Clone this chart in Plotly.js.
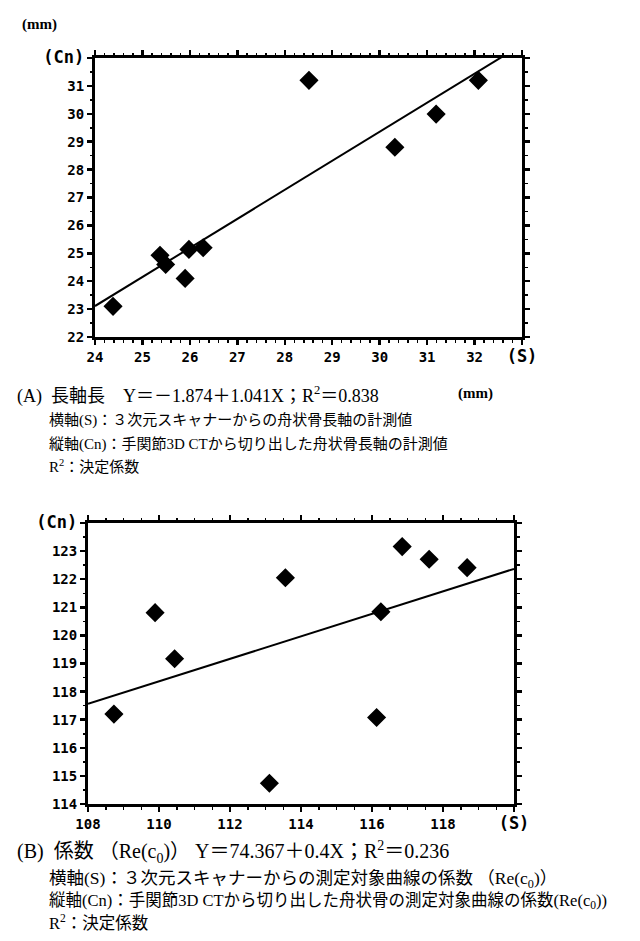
<!DOCTYPE html>
<html>
<head>
<meta charset="utf-8">
<script src="https://cdn.plot.ly/plotly-3.0.1.min.js"></script>
<style>html,body{margin:0;padding:0;background:#fff;}#chart{width:640px;height:941px;}</style>
</head>
<body>
<div id="chart"></div>
<script>
// ---- Data: (A) long-axis length (mm) ----
var xA = [24.38, 25.37, 25.49, 25.90, 25.98, 26.28, 28.51, 30.32, 31.19, 32.08];
var yA = [23.10, 24.93, 24.60, 24.10, 25.14, 25.20, 31.20, 28.80, 29.99, 31.20];
var fitA = {a: -1.874, b: 1.041};
var xTicksA = [24, 25, 26, 27, 28, 29, 30, 31, 32, 33];
var xLabelsA = ["24", "25", "26", "27", "28", "29", "30", "31", "32", "(S)"];
var yTicksA = [22, 23, 24, 25, 26, 27, 28, 29, 30, 31, 32];
var yLabelsA = ["22", "23", "24", "25", "26", "27", "28", "29", "30", "31", "(Cn)"];

// ---- Data: (B) coefficient Re(c0) ----
var xB = [108.73, 109.89, 110.44, 113.11, 113.56, 116.13, 116.25, 116.85, 117.61, 118.68];
var yB = [117.20, 120.81, 119.17, 114.74, 122.05, 117.08, 120.84, 123.16, 122.71, 122.41];
var fitB = {a: 74.367, b: 0.4};
var xTicksB = [108, 110, 112, 114, 116, 118, 120];
var xLabelsB = ["108", "110", "112", "114", "116", "118", "(S)"];
var yTicksB = [114, 115, 116, 117, 118, 119, 120, 121, 122, 123, 124];
var yLabelsB = ["114", "115", "116", "117", "118", "119", "120", "121", "122", "123", "(Cn)"];

var W = 640, H = 941;
var rangeXA = [24, 33], rangeYA = [22, 32];
var rangeXB = [108, 120], rangeYB = [114, 124];

function fitLine(f, r) { return {x: r, y: r.map(function (v) { return f.a + f.b * v; })}; }
var lA = fitLine(fitA, rangeXA), lB = fitLine(fitB, rangeXB);

var mark = {symbol: 'diamond', size: 12, color: '#000', line: {color: '#000', width: 2.5}};
var traces = [
  {x: xA, y: yA, type: 'scatter', mode: 'markers', marker: mark, xaxis: 'x', yaxis: 'y', cliponaxis: false},
  {x: lA.x, y: lA.y, type: 'scatter', mode: 'lines', line: {color: '#000', width: 2}, xaxis: 'x', yaxis: 'y'},
  {x: xB, y: yB, type: 'scatter', mode: 'markers', marker: mark, xaxis: 'x2', yaxis: 'y2', cliponaxis: false},
  {x: lB.x, y: lB.y, type: 'scatter', mode: 'lines', line: {color: '#000', width: 2}, xaxis: 'x2', yaxis: 'y2'}
];

// bold labels; the unit labels "(S)"/"(Cn)" drawn larger
function fmt(labels) {
  return labels.map(function (t) {
    return /^\(/.test(t) ? '<span style="font-size:17px"><b>' + t + '</b></span>' : '<b>' + t + '</b>';
  });
}
var tf = {family: '"DejaVu Sans Mono", monospace', size: 14, color: '#000', weight: 'bold'};
function ax(domain, range, tv, tt, minorD, anchor) {
  return {
    domain: domain, range: range, anchor: anchor, fixedrange: true,
    tickmode: 'array', tickvals: tv, ticktext: fmt(tt), tickfont: tf,
    ticks: 'outside', ticklen: 5, tickwidth: 2.5, tickcolor: '#000',
    showline: true, linecolor: '#000', linewidth: 3, mirror: 'ticks',
    showgrid: false, zeroline: false,
    minor: {dtick: minorD, ticks: 'outside', ticklen: 2.5, tickwidth: 1.5, tickcolor: '#000', showgrid: false}
  };
}
function px(v) { return v / W; }
function py(v) { return 1 - v / H; }

var serif = '"Liberation Serif", "Noto Sans CJK JP", serif';
var capA = {family: serif, size: 18, color: '#000'};
var subA = {family: serif, size: 15, color: '#000'};
var capB = {family: serif, size: 20, color: '#000'};
var subB = {family: serif, size: 16.5, color: '#000'};
var subB2 = {family: serif, size: 17.5, color: '#000'};
var mmFont = {family: '"Liberation Serif", serif', size: 15, color: '#000'};
function cap(text, x, y, font) {
  return {text: text, xref: 'paper', yref: 'paper', x: px(x), y: py(y), xanchor: 'left', yanchor: 'middle', showarrow: false, font: font};
}

var layout = {
  width: W, height: H, margin: {l: 0, r: 0, t: 0, b: 0},
  paper_bgcolor: '#fff', plot_bgcolor: '#fff', showlegend: false,
  xaxis: ax([px(95), px(522)], rangeXA, xTicksA, xLabelsA, 0.2, 'y'),
  yaxis: ax([py(337), py(58)], rangeYA, yTicksA, yLabelsA, 0.5, 'x'),
  xaxis2: ax([px(88), px(514)], rangeXB, xTicksB, xLabelsB, 0.5, 'y2'),
  yaxis2: ax([py(804), py(523)], rangeYB, yTicksB, yLabelsB, 0.5, 'x2'),
  annotations: [
    cap('<b>(mm)</b>', 20, 25, mmFont),
    cap('(A)  長軸長　Y＝－1.874＋1.041X；R<sup>2</sup>＝0.838', 15, 395, capA),
    cap('<b>(mm)</b>', 456, 393, mmFont),
    cap('横軸(S)：３次元スキャナーからの舟状骨長軸の計測値', 47, 420, subA),
    cap('縦軸(Cn)：手関節3D CTから切り出した舟状骨長軸の計測値', 47, 444, subA),
    cap('R<sup>2</sup>：決定係数', 47, 466, subA),
    cap('(B)  係数 （Re(c<sub>0</sub>)） Y＝74.367＋0.4X；R<sup>2</sup>＝0.236', 15, 852, capB),
    cap('横軸(S)：３次元スキャナーからの測定対象曲線の係数 （Re(c<sub>0</sub>)）', 47, 879, subB2),
    cap('縦軸(Cn)：手関節3D CTから切り出した舟状骨の測定対象曲線の係数(Re(c<sub>0</sub>))', 47, 901, subB),
    cap('R<sup>2</sup>：決定係数', 47, 922, subB)
  ]
};

Plotly.newPlot('chart', traces, layout, {staticPlot: true, displayModeBar: false});
</script>
</body>
</html>
